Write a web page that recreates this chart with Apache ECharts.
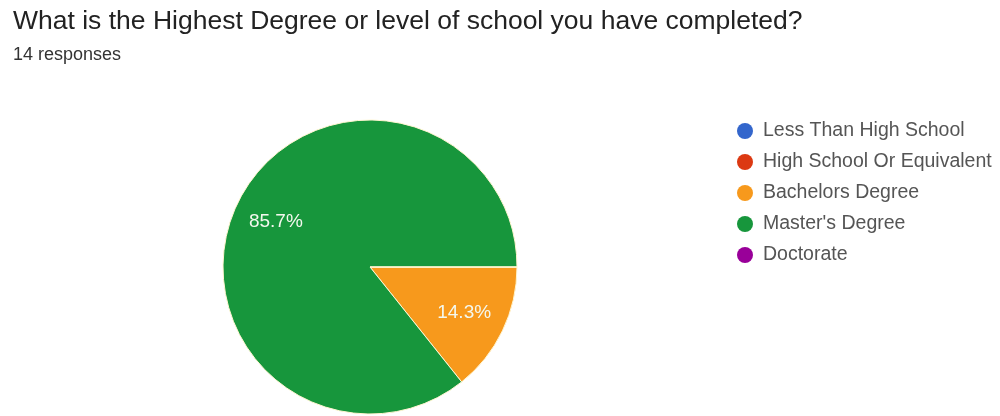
<!DOCTYPE html>
<html><head><meta charset="utf-8">
<script src="https://cdn.jsdelivr.net/npm/echarts@6/dist/echarts.min.js"></script>
<style>html,body{margin:0;padding:0;background:#fff}#c{width:1000px;height:416px}</style>
</head><body><div id="c"></div>
<script>
const categories = ["Less Than High School","High School Or Equivalent","Bachelors Degree","Master's Degree","Doctorate"];
const counts = [0, 0, 2, 12, 0];
const colors = ["#3366cc","#dc3912","#f7991c","#17963c","#990099"];
const titleText = "What is the Highest Degree or level of school you have completed?";
const subtitleText = "14 responses";

const data = categories.map((n,i)=>({name:n, value:counts[i]}));
const FONT = '"Liberation Sans", Arial, sans-serif';
const chart = echarts.init(document.getElementById('c'));
chart.setOption({
  animation:false,
  color: colors,
  title:{
    text:titleText, subtext:subtitleText, left:8, top:3, itemGap:11,
    textStyle:{fontFamily:FONT, fontSize:26.5, fontWeight:'normal', color:'#222'},
    subtextStyle:{fontFamily:FONT, fontSize:18, color:'#333'}
  },
  legend:{
    orient:'vertical', left:732, top:116, icon:'circle', itemWidth:16, itemHeight:16, itemGap:11,
    itemStyle:{borderWidth:0},
    textStyle:{fontFamily:FONT, fontSize:19.5, color:'#555', padding:[0,0,0,5]},
    data: categories
  },
  series:[{
    type:'pie', center:[370,267], radius:[0,147], startAngle:0, clockwise:true,
    stillShowZeroSum:true, silent:true,
    itemStyle:{borderColor:'#fff5d0', borderWidth:1},
    label:{show:false}, labelLine:{show:false},
    data: data
  },{
    type:'pie', center:[370,267], radius:[56,147], startAngle:0, clockwise:true,
    silent:true, legendHoverLink:false,
    itemStyle:{color:'rgba(0,0,0,0)', borderWidth:0},
    label:{show:true, position:'inside', fontFamily:FONT, fontSize:19, color:'#f4f8ee',
      formatter:p=> p.value>0 ? p.percent.toFixed(1)+'%' : ''},
    labelLine:{show:false},
    data: data
  }]
});
</script></body></html>
